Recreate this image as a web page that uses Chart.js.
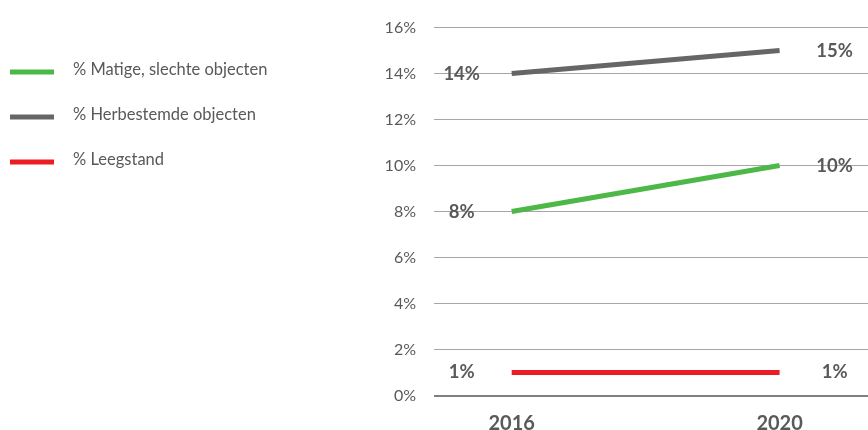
<!DOCTYPE html>
<html>
<head>
<meta charset="utf-8">
<script src="https://cdn.jsdelivr.net/npm/chart.js@4/dist/chart.umd.min.js"></script>
<style>
  html, body { margin: 0; padding: 0; background: #fff; }
  #wrap { width: 868px; height: 430px; position: relative; }
</style>
</head>
<body>
<div id="wrap"><canvas id="chart"></canvas></div>
<script>
// jaren en percentages per reeks
const years = ['2016', '2020'];
const seriesNames = ['% Matige, slechte objecten', '% Herbestemde objecten', '% Leegstand'];
const matige = [8, 10];
const herbestemd = [14, 15];
const leegstand = [1, 1];
const seriesColors = ['#4DB848', '#666666', '#ED1C24'];
const yTicks = [0, 2, 4, 6, 8, 10, 12, 14, 16];

const FONT = "Lato, 'Open Sans', sans-serif";
const TEXT = '#595959';

const toPoints = vals => vals.map((v, i) => ({ x: i, y: v }));

// legenda links van de grafiek
const legendPlugin = {
  id: 'sideLegend',
  afterDraw(chart) {
    const ctx = chart.ctx;
    ctx.save();
    seriesNames.forEach((name, i) => {
      const y = 72 + i * 45;
      ctx.fillStyle = seriesColors[i];
      ctx.fillRect(10, y - 2.5, 44, 5);
      ctx.fillStyle = TEXT;
      ctx.font = '16.5px ' + FONT;
      ctx.textAlign = 'left';
      ctx.textBaseline = 'middle';
      ctx.fillText(name, 73, y - 2);
    });
    ctx.restore();
  }
};

// waardelabels voor het eerste en laatste punt
const valueLabels = {
  id: 'valueLabels',
  afterDatasetsDraw(chart) {
    const ctx = chart.ctx;
    ctx.save();
    ctx.font = 'bold 18.5px ' + FONT;
    ctx.fillStyle = TEXT;
    ctx.textBaseline = 'middle';
    ctx.textAlign = 'center';
    chart.data.datasets.forEach((ds, di) => {
      const pts = chart.getDatasetMeta(di).data;
      const first = pts[0], last = pts[pts.length - 1];
      ctx.fillText(ds.data[0].y + '%', first.x - 50, first.y);
      ctx.fillText(ds.data[ds.data.length - 1].y + '%', last.x + 55, last.y);
    });
    ctx.restore();
  }
};

new Chart(document.getElementById('chart'), {
  type: 'line',
  data: {
    datasets: [
      { label: seriesNames[0], data: toPoints(matige), borderColor: seriesColors[0] },
      { label: seriesNames[1], data: toPoints(herbestemd), borderColor: seriesColors[1] },
      { label: seriesNames[2], data: toPoints(leegstand), borderColor: seriesColors[2] }
    ].map(d => Object.assign(d, { borderWidth: 5, pointRadius: 0, borderCapStyle: 'butt', tension: 0, clip: false }))
  },
  options: {
    responsive: true,
    maintainAspectRatio: false,
    animation: false,
    layout: { padding: { top: 27, right: 0, left: 0, bottom: 0 } },
    plugins: { legend: { display: false }, tooltip: { enabled: false } },
    scales: {
      x: {
        type: 'linear',
        min: -0.29,
        max: 1.33,
        grid: { display: false },
        border: { display: false },
        afterBuildTicks: s => { s.ticks = years.map((_, i) => ({ value: i })); },
        afterFit: s => { s.height = 34.5; },
        ticks: {
          callback: v => years[v],
          color: TEXT,
          font: { family: FONT, size: 20, weight: 'bold' },
          padding: 8,
          maxRotation: 0
        }
      },
      y: {
        min: 0,
        max: 16,
        afterBuildTicks: s => { s.ticks = yTicks.map(v => ({ value: v })); },
        afterFit: s => { s.width = 434; },
        border: { display: false },
        grid: {
          drawTicks: false,
          color: c => c.tick.value === 0 ? '#7F7F7F' : '#A6A6A6',
          lineWidth: c => c.tick.value === 0 ? 2 : 1
        },
        ticks: {
          callback: v => v + '%',
          color: TEXT,
          font: { family: FONT, size: 16 },
          padding: 18
        }
      }
    }
  },
  plugins: [legendPlugin, valueLabels]
});
</script>
</body>
</html>
